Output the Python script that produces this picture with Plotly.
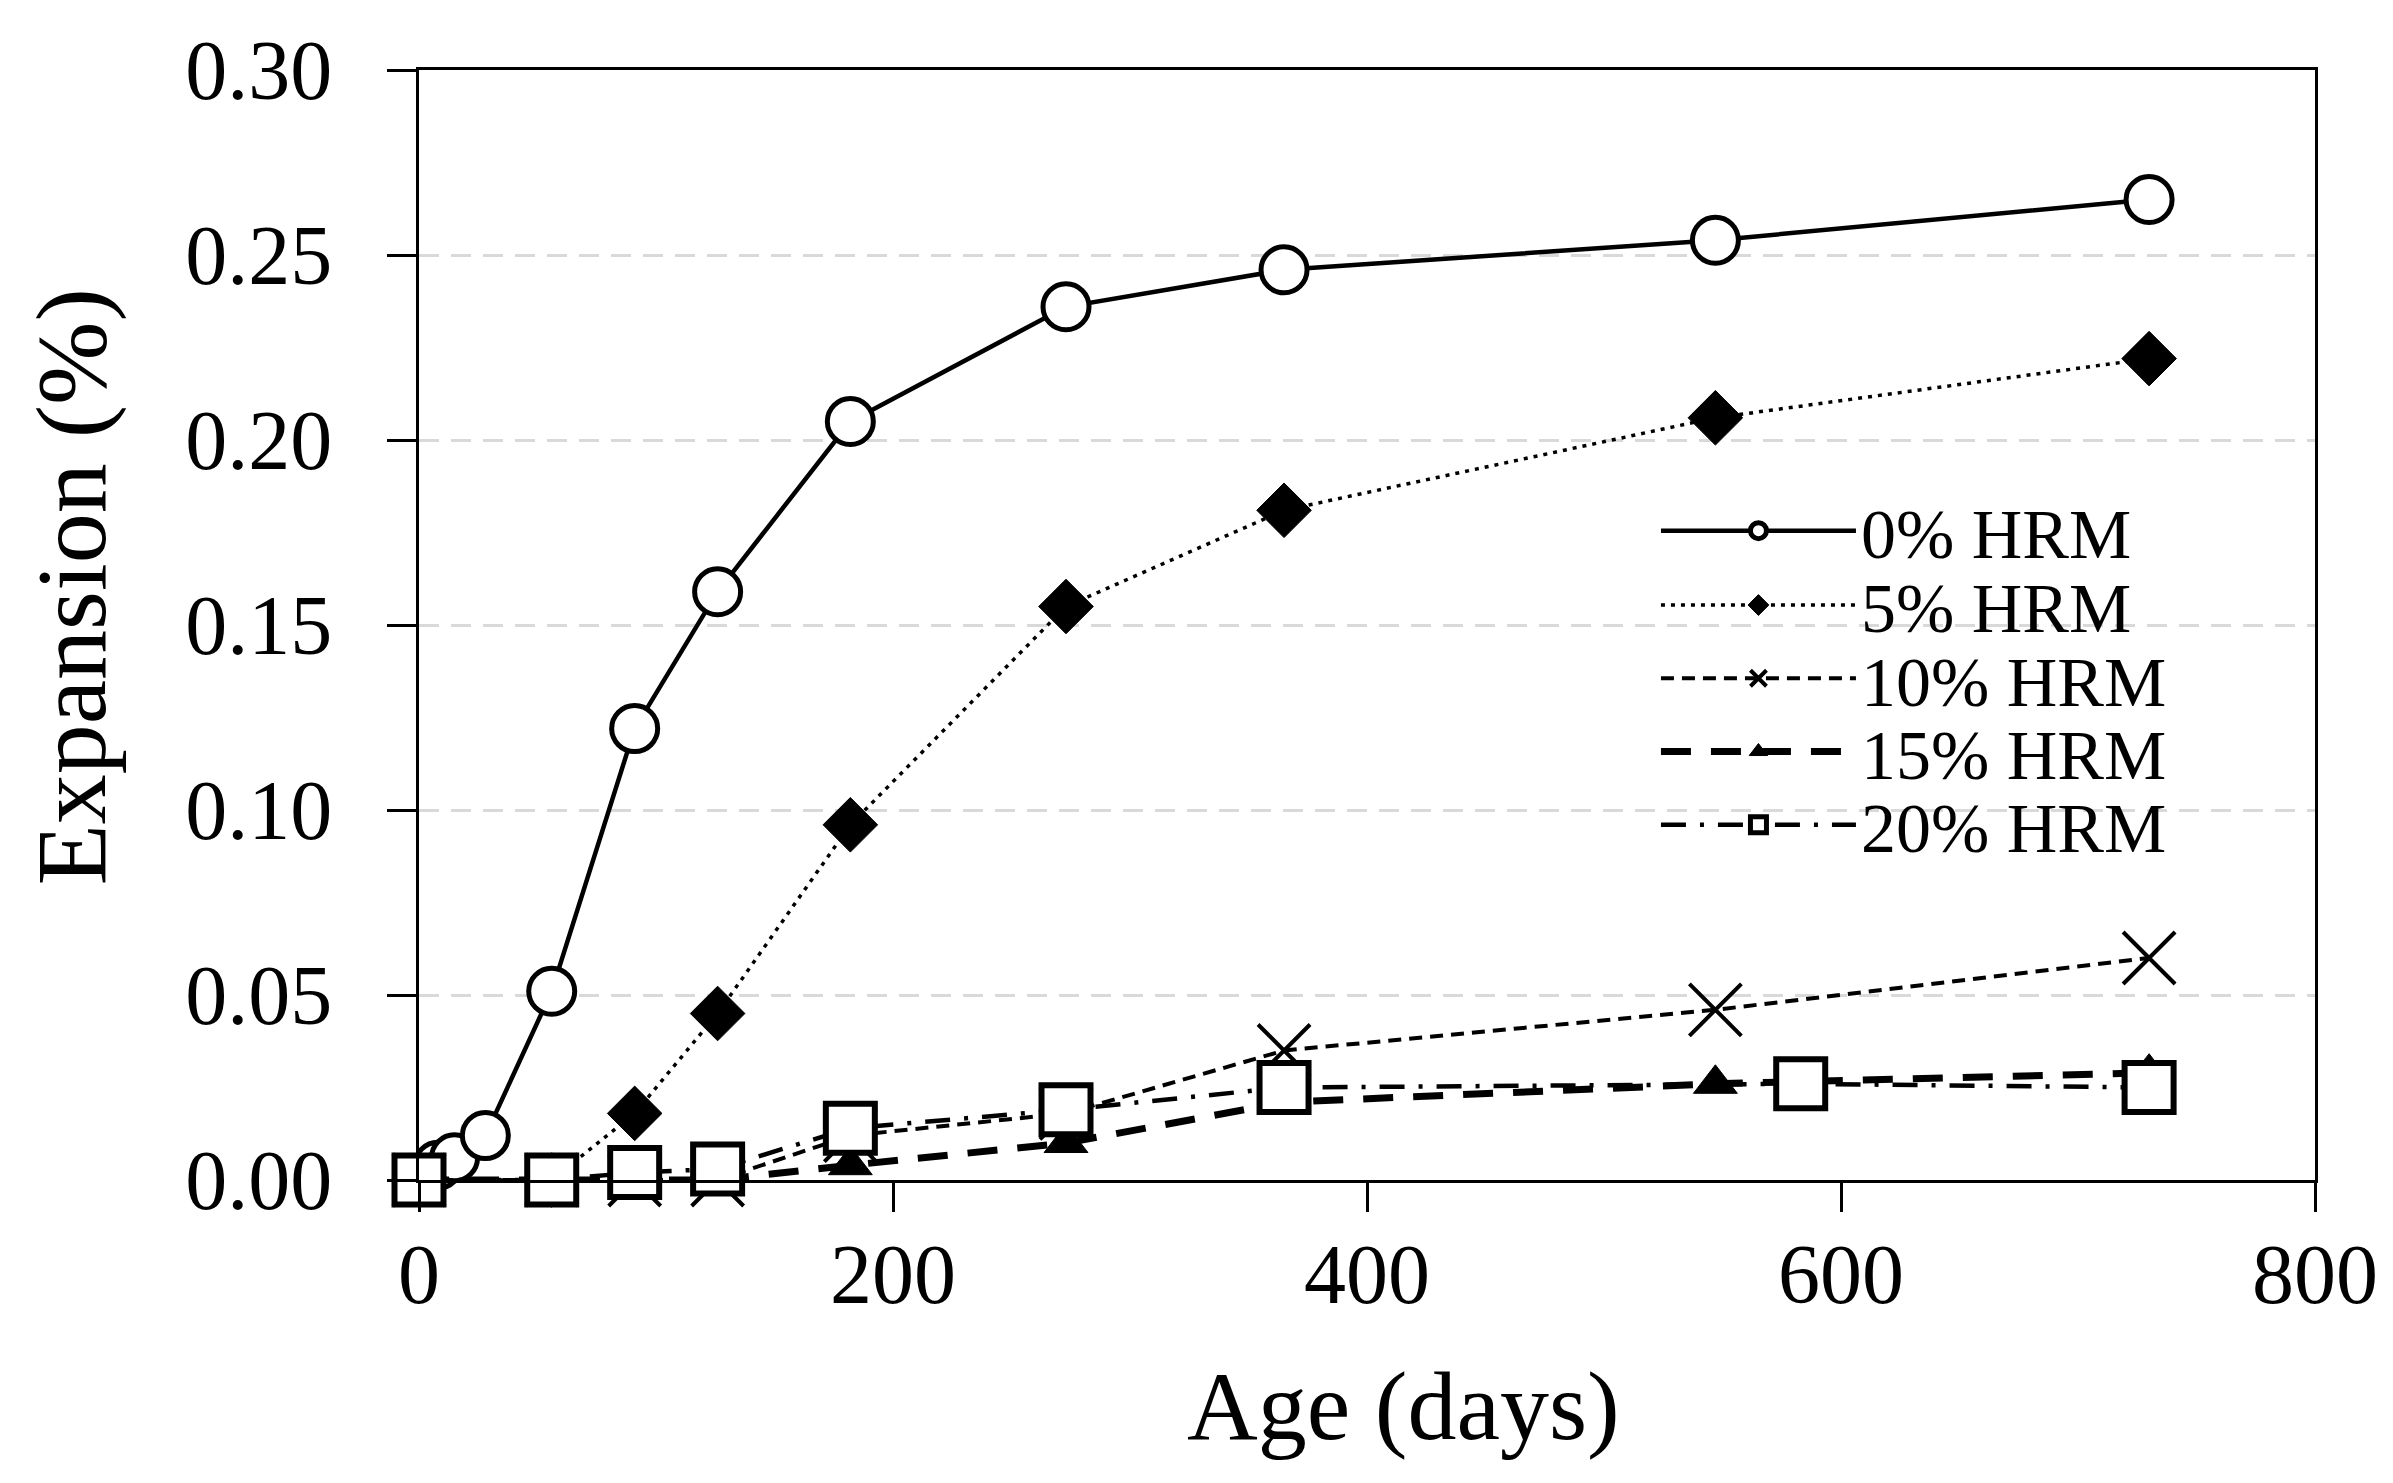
import plotly.graph_objects as go

# ---- data ----
age_0 = [0, 8, 15, 28, 56, 91, 126, 182, 273, 365, 547, 730]
exp_0 = [0.000, 0.004, 0.006, 0.012, 0.051, 0.122, 0.159, 0.205, 0.236, 0.246, 0.254, 0.265]

age_5 = [0, 56, 91, 126, 182, 273, 365, 547, 730]
exp_5 = [0.000, 0.000, 0.018, 0.045, 0.096, 0.155, 0.181, 0.206, 0.222]

age_10 = [0, 56, 91, 126, 182, 273, 365, 547, 730]
exp_10 = [0.000, 0.000, 0.000, 0.000, 0.012, 0.018, 0.035, 0.046, 0.060]

age_15 = [0, 56, 91, 126, 182, 273, 365, 547, 730]
exp_15 = [0.000, 0.000, 0.000, 0.000, 0.004, 0.010, 0.021, 0.026, 0.029]

age_20 = [0, 56, 91, 126, 182, 273, 365, 583, 730]
exp_20 = [0.000, 0.000, 0.002, 0.003, 0.014, 0.019, 0.025, 0.026, 0.025]

names = ["0% HRM", "5% HRM", "10% HRM", "15% HRM", "20% HRM"]
x_ticks = [0, 200, 400, 600, 800]
y_ticks = [0.00, 0.05, 0.10, 0.15, 0.20, 0.25, 0.30]

FONT = "Liberation Serif, Times New Roman, serif"

fig = go.Figure()

fig.add_trace(go.Scatter(
    x=age_0, y=exp_0, name=names[0], mode="lines+markers", legend="legend",
    line=dict(color="black", width=4.5, dash="solid"),
    marker=dict(symbol="circle", size=46, color="white", line=dict(color="black", width=5)),
    cliponaxis=False))

fig.add_trace(go.Scatter(
    x=age_5, y=exp_5, name=names[1], mode="lines+markers", legend="legend2",
    line=dict(color="black", width=3.5, dash="4px,6px"),
    marker=dict(symbol="diamond", size=42, color="black", line=dict(color="black", width=1)),
    cliponaxis=False))

fig.add_trace(go.Scatter(
    x=age_10, y=exp_10, name=names[2], mode="lines+markers", legend="legend3",
    line=dict(color="black", width=4, dash="13px,8px"),
    marker=dict(symbol="x-thin-open", size=52, color="black", line=dict(color="black", width=4)),
    cliponaxis=False))

fig.add_trace(go.Scatter(
    x=age_15, y=exp_15, name=names[3], mode="lines+markers", legend="legend4",
    line=dict(color="black", width=7, dash="30px,20px"),
    marker=dict(symbol="triangle-up", size=38, color="black", line=dict(color="black", width=1)),
    cliponaxis=False))

fig.add_trace(go.Scatter(
    x=age_20, y=exp_20, name=names[4], mode="lines+markers", legend="legend5",
    line=dict(color="black", width=4.5, dash="25px,14px,4px,14px"),
    marker=dict(symbol="square", size=49, color="white", line=dict(color="black", width=6)),
    cliponaxis=False))

legend_x = 0.6524
legend_ys = [0.585, 0.518, 0.452, 0.386, 0.320]


def leg(yv):
    return dict(
        x=legend_x, y=yv, xanchor="left", yanchor="middle",
        bgcolor="rgba(0,0,0,0)", borderwidth=0,
        font=dict(family=FONT, size=70, color="black"),
        itemwidth=195,
    )


fig.update_layout(
    width=2393, height=1483,
    paper_bgcolor="white", plot_bgcolor="white",
    margin=dict(l=411, r=86, t=62, b=311),
    font=dict(family=FONT, color="black", size=80),
    showlegend=True,
    legend=leg(legend_ys[0]),
    legend2=leg(legend_ys[1]),
    legend3=leg(legend_ys[2]),
    legend4=leg(legend_ys[3]),
    legend5=leg(legend_ys[4]),
    annotations=[
        dict(text="Expansion (%)", xref="paper", yref="paper",
             x=-0.1835, y=0.534, xanchor="center", yanchor="middle",
             textangle=-90, showarrow=False,
             font=dict(family=FONT, size=100, color="black")),
        dict(text="Age (days)", xref="paper", yref="paper",
             x=0.519, y=-0.2036, xanchor="center", yanchor="middle",
             showarrow=False,
             font=dict(family=FONT, size=98, color="black")),
    ],
)

fig.update_xaxes(
    range=[0, 800], tickvals=x_ticks, ticktext=[str(v) for v in x_ticks],
    showline=True, linecolor="black", linewidth=3, mirror=True,
    ticks="outside", ticklen=29, tickwidth=2.5, tickcolor="black",
    showgrid=False, zeroline=False,
    tickfont=dict(family=FONT, size=84, color="black"),
    ticklabelstandoff=-10,
)

fig.update_yaxes(
    range=[0, 0.30], tickvals=y_ticks, ticktext=[f"{v:.2f}" for v in y_ticks],
    showline=True, linecolor="black", linewidth=3, mirror=True,
    ticks="outside", ticklen=29, tickwidth=2.5, tickcolor="black",
    showgrid=True, gridcolor="#d9d9d9", gridwidth=2.5, griddash="20px,12px",
    zeroline=False,
    tickfont=dict(family=FONT, size=84, color="black"),
    ticklabelstandoff=38,
)

fig.write_html("out.html")
